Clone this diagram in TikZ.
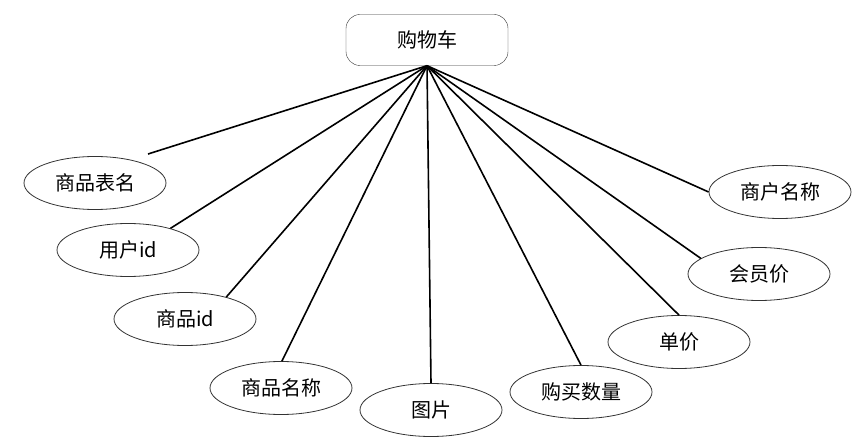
\documentclass[tikz,border=0pt]{standalone}
\usepackage{fontspec}
\setmainfont{Noto Sans CJK SC}
\usetikzlibrary{shapes.geometric}

\begin{document}
\begin{tikzpicture}[
  x=1pt, y=-1pt,
  font=\fontsize{20}{24}\selectfont,
  entity/.style={draw=black!80, rounded corners=14pt, minimum width=162pt,
                 minimum height=51pt, inner sep=0pt},
  attr/.style={ellipse, draw=black!80, line width=0.8pt, minimum width=142pt,
               minimum height=53pt, inner sep=0pt},
  link/.style={line width=1.6pt},
]
  % Canvas: 1 unit = 1 px of the 862 x 446 sheet, y pointing down
  \useasboundingbox (0,0) rectangle (862,446);

  % Entity
  \node[entity] (cart) at (427,40) {购物车};

  % Attributes (centre x, centre y, name, label)
  \foreach \x/\y/\n/\t in {%
    95/183/spbm/{商品表名},%
    128/250/yhid/{用户id},%
    185/319/spid/{商品id},%
    281/388/spmc/{商品名称},%
    431/410/tp/{图片},%
    581/392/gmsl/{购买数量},%
    679/342/dj/{单价},%
    759/274/hyj/{会员价},%
    780/192/shmc/{商户名称}%
  }{
    \node[attr] (\n) at (\x,\y) {\t};
  }

  % Links (attribute, border angle)
  \foreach \n/\a in {yhid/27, spid/28, spmc/88, tp/90, gmsl/90, dj/90, hyj/165, shmc/180}
    \draw[link] (cart.south) -- (\n.\a);

  % this one stops short of its ellipse
  \coordinate (spbm-end) at (148,154);
  \draw[link] (cart.south) -- (spbm-end);
\end{tikzpicture}
\end{document}
